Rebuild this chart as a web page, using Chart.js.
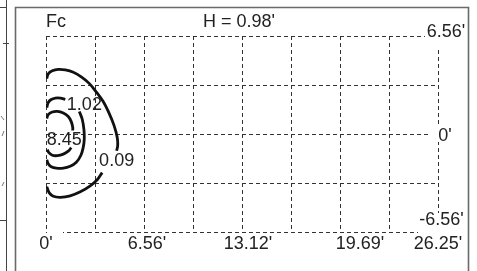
<!DOCTYPE html>
<html>
<head>
<meta charset="utf-8">
<script src="https://cdn.jsdelivr.net/npm/chart.js@4/dist/chart.umd.min.js"></script>
<style>
html,body{margin:0;padding:0;background:#fff;}
canvas{display:block;}
</style>
</head>
<body>
<canvas id="c" width="477" height="271"></canvas>
<script>
// ---- data (feet) ----
const xTickValues = [0, 6.5625, 13.125, 19.6875, 26.25];
const xTickLabels = ["0'", "6.56'", "13.12'", "19.69'", "26.25'"];
const yTickValues = [6.5625, 0, -6.5625];
const yTickLabels = ["6.56'", "0'", "-6.56'"];

const titleLeft = "Fc";
const titleCenter = "H = 0.98'";

const contourLevels = ["0.09", "1.02", "8.45"];
const contourLabelX = [4.73, 2.57, 1.22];
const contourLabelY = [-1.82, 1.97, -0.41];

// contour 0.09 (null = break where label sits)
const c009X = [0.05,0.15,0.42,0.82,1.29,1.83,2.36,2.89,3.36,3.83,4.23,4.56,4.77,4.80,4.73,null,3.76,3.43,2.96,2.30,1.62,0.96,0.49,0.22,0.05];
const c009Y = [3.72,4.03,4.23,4.33,4.29,4.13,3.82,3.39,2.82,2.18,1.38,0.56,-0.24,-0.78,-1.12,null,-2.59,-3.06,-3.47,-3.87,-4.14,-4.24,-4.17,-3.94,-3.53];
// contour 1.02
const c102X = [0.05,0.15,0.35,0.62,0.96,1.29,null,2.23,2.43,2.54,2.56,2.49,2.33,2.03,1.62,1.16,0.69,0.35,0.15,0.05];
const c102Y = [1.77,2.11,2.31,2.41,2.41,2.31,null,1.51,0.97,0.30,-0.38,-0.91,-1.44,-1.89,-2.16,-2.29,-2.29,-2.19,-1.99,-1.72];
// contour 8.45
const c845X = [0.05,0.15,0.42,0.76,1.16,1.49,1.69,1.79,1.79,null,1.69,1.49,1.16,0.76,0.42,0.19,0.09];
const c845Y = [1.03,1.30,1.47,1.51,1.40,1.17,0.83,0.43,0.23,null,-0.91,-1.15,-1.35,-1.45,-1.42,-1.25,-1.05];

function pts(xs, ys){ return xs.map((x,i)=> (x===null ? {x:NaN,y:NaN} : {x:x, y:ys[i]})); }

const FONT = "18px 'Liberation Sans', Arial, sans-serif";

const lineStyle = {showLine:true, pointRadius:0, borderColor:'#111', borderWidth:2.8, tension:0.4, spanGaps:false, fill:false};

const overlay = {
  id:'overlay',
  afterDatasetsDraw(chart, args, o){
    const ctx = chart.ctx, xs = chart.scales.x, ys = chart.scales.y, ca = chart.chartArea;
    ctx.save();
    // masks (gaps in grid near labels)
    ctx.fillStyle = '#fff';
    o.masks.forEach(m => ctx.fillRect(m[0], m[1], m[2]-m[0], m[3]-m[1]));
    ctx.fillStyle = '#222';
    ctx.font = FONT;
    ctx.textAlign = 'center';
    ctx.textBaseline = 'alphabetic';
    // x tick labels
    xTickValues.forEach((v,i)=>{
      ctx.fillText(xTickLabels[i], xs.getPixelForValue(v) + o.xNudge[i], ca.bottom + o.xBase);
    });
    // y tick labels
    yTickValues.forEach((v,i)=>{
      ctx.fillText(yTickLabels[i], ca.right + o.yDx[i], ys.getPixelForValue(v) + o.yDy[i]);
    });
    // contour labels
    ctx.textBaseline = 'middle';
    contourLevels.forEach((t,i)=>{
      ctx.fillText(t, xs.getPixelForValue(contourLabelX[i]), ys.getPixelForValue(contourLabelY[i]));
    });
    // titles
    ctx.textBaseline = 'alphabetic';
    ctx.textAlign = 'left';
    ctx.fillText(titleLeft, ca.left, 27);
    ctx.textAlign = 'center';
    ctx.fillText(titleCenter, 239, 27);
    ctx.restore();
  },
  afterDraw(chart){
    const ctx = chart.ctx;
    ctx.save();
    // main panel frame
    ctx.strokeStyle = '#6a6a6a';
    ctx.lineWidth = 1.6;
    ctx.beginPath();
    ctx.moveTo(15.5, 280); ctx.lineTo(15.5, 7.5); ctx.lineTo(468.5, 7.5); ctx.lineTo(468.5, 280);
    ctx.stroke();
    // neighbouring panel fragment on the left
    ctx.strokeStyle = '#444';
    ctx.lineWidth = 1;
    ctx.beginPath();
    ctx.moveTo(6.5, 0); ctx.lineTo(6.5, 271);
    ctx.moveTo(0, 7.5); ctx.lineTo(6.5, 7.5);
    ctx.moveTo(0, 220.5); ctx.lineTo(6.5, 220.5);
    ctx.moveTo(3, 43.5); ctx.lineTo(9, 43.5);
    ctx.stroke();
    ctx.strokeStyle = '#777';
    ctx.beginPath();
    ctx.moveTo(1, 116); ctx.lineTo(4, 120);
    ctx.moveTo(4, 131); ctx.lineTo(2, 136);
    ctx.moveTo(4, 182); ctx.lineTo(2, 186);
    ctx.stroke();
    ctx.restore();
  }
};

new Chart(document.getElementById('c').getContext('2d'), {
  type:'scatter',
  data:{
    datasets:[
      Object.assign({label:contourLevels[0], data:pts(c009X,c009Y)}, lineStyle),
      Object.assign({label:contourLevels[1], data:pts(c102X,c102Y)}, lineStyle),
      Object.assign({label:contourLevels[2], data:pts(c845X,c845Y)}, lineStyle)
    ]
  },
  options:{
    responsive:false,
    animation:false,
    layout:{padding:{left:46, right:39, top:36, bottom:39}},
    plugins:{
      legend:{display:false},
      tooltip:{enabled:false},
      overlay:{
        xNudge:[0, 3, 6, 20, 0],
        xBase:17,
        yDx:[8, 7, 3.5],
        yDy:[0.5, 6.5, -7.5],
        masks:[[425,22,472,50],[418,213,472,254],[47,228,63,236],[431,127,454,142]]
      }
    },
    scales:{
      x:{type:'linear', min:0, max:26.25, afterFit(s){s.height=0;},
         ticks:{display:false, stepSize:3.28125},
         grid:{color:'#333', lineWidth:1, drawTicks:false},
         border:{display:false, dash:[4,3]}},
      y:{type:'linear', min:-6.5625, max:6.5625, afterFit(s){s.width=0;},
         ticks:{display:false, stepSize:3.28125},
         grid:{color:'#333', lineWidth:1, drawTicks:false},
         border:{display:false, dash:[4,3]}}
    }
  },
  plugins:[overlay]
});
</script>
</body>
</html>
